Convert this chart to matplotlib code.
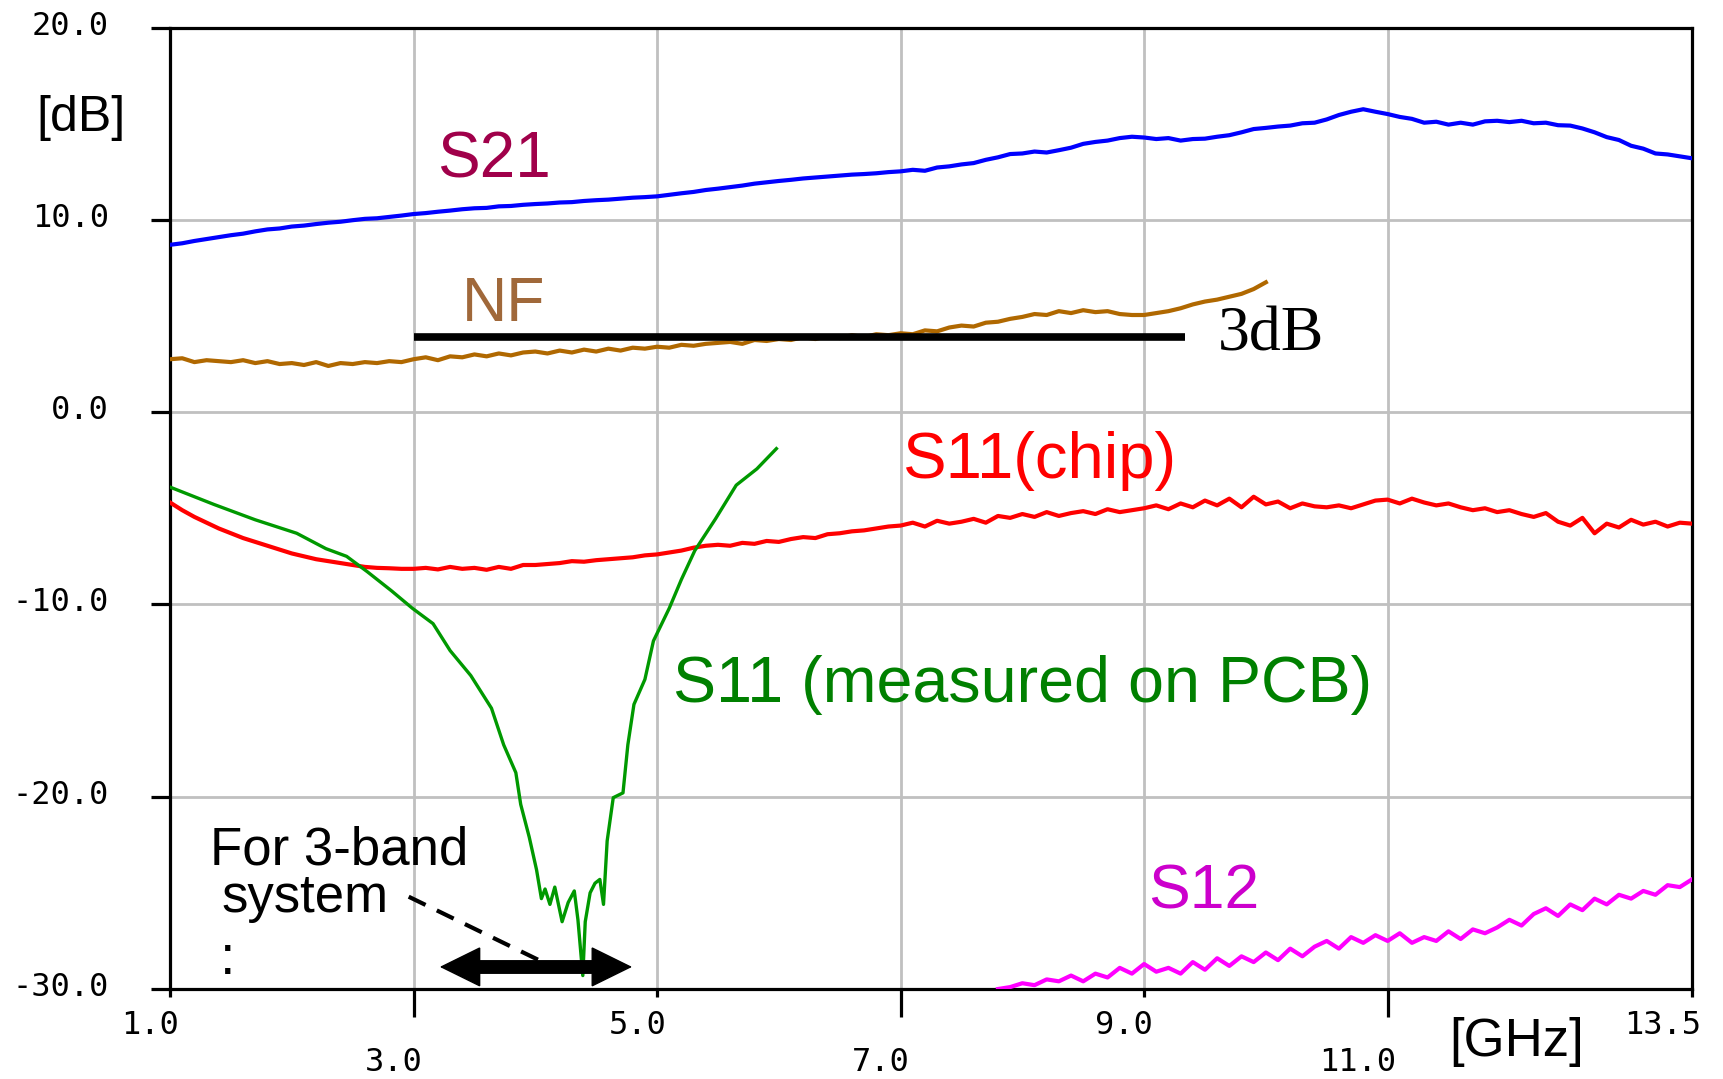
import numpy as np
import matplotlib
matplotlib.use("Agg")
import matplotlib.pyplot as plt
from matplotlib.transforms import ScaledTranslation

# ---------------- data ----------------
s21_start, s21_stop = 1.0, 13.5
s21_db = [
    8.70, 8.78, 8.90, 9.00, 9.10, 9.20, 9.28, 9.40, 9.50, 9.55,
    9.65, 9.70, 9.78, 9.85, 9.90, 9.98, 10.05, 10.08, 10.15, 10.22,
    10.30, 10.35, 10.42, 10.48, 10.55, 10.60, 10.62, 10.70, 10.72, 10.78,
    10.82, 10.85, 10.90, 10.92, 10.98, 11.02, 11.05, 11.10, 11.15, 11.18,
    11.22, 11.30, 11.38, 11.45, 11.55, 11.62, 11.70, 11.78, 11.88, 11.95,
    12.02, 12.08, 12.15, 12.20, 12.25, 12.30, 12.35, 12.38, 12.42, 12.48,
    12.52, 12.60, 12.55, 12.72, 12.78, 12.88, 12.95, 13.12, 13.25, 13.42,
    13.45, 13.55, 13.50, 13.62, 13.75, 13.95, 14.05, 14.12, 14.25, 14.32,
    14.28, 14.20, 14.25, 14.12, 14.20, 14.22, 14.32, 14.40, 14.55, 14.72,
    14.78, 14.85, 14.90, 15.02, 15.05, 15.22, 15.45, 15.62, 15.75, 15.62,
    15.50, 15.35, 15.25, 15.05, 15.10, 14.95, 15.05, 14.95, 15.12, 15.15,
    15.08, 15.15, 15.02, 15.05, 14.92, 14.90, 14.75, 14.55, 14.30, 14.15,
    13.85, 13.70, 13.45, 13.40, 13.30, 13.20,
]

nf_start, nf_stop = 1.0, 10.0
nf_db = [
    2.75, 2.80, 2.60, 2.70, 2.65, 2.60, 2.70, 2.55, 2.65, 2.50,
    2.55, 2.45, 2.60, 2.40, 2.55, 2.50, 2.60, 2.55, 2.65, 2.60,
    2.75, 2.85, 2.70, 2.90, 2.85, 3.00, 2.90, 3.05, 2.95, 3.10,
    3.15, 3.05, 3.20, 3.10, 3.25, 3.15, 3.30, 3.20, 3.35, 3.30,
    3.40, 3.35, 3.50, 3.45, 3.55, 3.60, 3.65, 3.55, 3.75, 3.70,
    3.80, 3.75, 3.90, 3.80, 3.95, 3.85, 4.00, 3.90, 4.05, 4.00,
    4.10, 4.05, 4.25, 4.20, 4.40, 4.50, 4.45, 4.65, 4.70, 4.85,
    4.95, 5.10, 5.05, 5.25, 5.15, 5.30, 5.20, 5.25, 5.10, 5.05,
    5.05, 5.15, 5.25, 5.40, 5.60, 5.75, 5.85, 6.00, 6.15, 6.40,
    6.75,
]

s11chip_start, s11chip_stop = 1.0, 13.5
s11chip_db = [
    -4.70, -5.10, -5.45, -5.75, -6.05, -6.30, -6.55, -6.75, -6.95, -7.15,
    -7.35, -7.50, -7.65, -7.75, -7.85, -7.95, -8.05, -8.10, -8.12, -8.15,
    -8.15, -8.10, -8.18, -8.05, -8.15, -8.10, -8.20, -8.05, -8.15, -7.95,
    -7.95, -7.90, -7.85, -7.75, -7.78, -7.70, -7.65, -7.60, -7.55, -7.45,
    -7.40, -7.30, -7.20, -7.05, -6.95, -6.90, -6.95, -6.80, -6.85, -6.70,
    -6.75, -6.60, -6.50, -6.55, -6.35, -6.30, -6.20, -6.15, -6.05, -5.95,
    -5.90, -5.75, -5.95, -5.65, -5.80, -5.70, -5.55, -5.75, -5.40, -5.50,
    -5.30, -5.45, -5.20, -5.40, -5.25, -5.15, -5.30, -5.05, -5.20, -5.10,
    -5.00, -4.85, -5.05, -4.75, -4.95, -4.60, -4.85, -4.50, -4.95, -4.40,
    -4.80, -4.65, -5.00, -4.75, -4.90, -4.95, -4.85, -5.00, -4.80, -4.60,
    -4.55, -4.75, -4.50, -4.70, -4.85, -4.75, -4.95, -5.10, -5.00, -5.20,
    -5.10, -5.30, -5.45, -5.25, -5.70, -5.90, -5.50, -6.30, -5.80, -6.00,
    -5.60, -5.85, -5.70, -5.95, -5.75, -5.80,
]

s11pcb_ghz = [1.0, 1.36, 1.70, 2.04, 2.28, 2.45, 2.62, 2.82, 2.99, 3.16,
              3.30, 3.47, 3.64, 3.74, 3.84, 3.88, 3.95, 4.01, 4.05, 4.08,
              4.12, 4.16, 4.22, 4.27, 4.32, 4.35, 4.39, 4.41, 4.45, 4.49,
              4.53, 4.56, 4.59, 4.64, 4.72, 4.76, 4.81, 4.90, 4.97, 5.10,
              5.20, 5.31, 5.48, 5.65, 5.82, 5.98]
s11pcb_db = [-3.9, -4.8, -5.6, -6.3, -7.1, -7.5, -8.3, -9.3, -10.2, -11.0,
             -12.4, -13.7, -15.4, -17.3, -18.75, -20.4, -22.1, -23.8, -25.3, -24.8,
             -25.6, -24.7, -26.5, -25.5, -24.9, -26.4, -29.3, -26.5, -25.0, -24.5,
             -24.3, -25.6, -22.3, -20.05, -19.8, -17.3, -15.2, -13.9, -11.9, -10.2,
             -8.7, -7.2, -5.55, -3.8, -2.95, -1.9]

s12_start, s12_stop = 7.8, 13.5
s12_db = [
    -30.0, -29.9, -29.7, -29.8, -29.5, -29.6, -29.3, -29.6, -29.2, -29.4,
    -28.9, -29.2, -28.7, -29.1, -28.9, -29.2, -28.6, -29.0, -28.4, -28.8,
    -28.3, -28.6, -28.1, -28.5, -27.9, -28.3, -27.8, -27.5, -27.9, -27.3,
    -27.6, -27.2, -27.5, -27.1, -27.6, -27.3, -27.5, -27.0, -27.4, -26.9,
    -27.1, -26.8, -26.4, -26.7, -26.1, -25.8, -26.2, -25.6, -25.9, -25.3,
    -25.6, -25.1, -25.3, -24.9, -25.1, -24.6, -24.7, -24.3,
]

nf_limit_ghz = [3.0, 9.34]
nf_limit_db = [3.9, 3.9]

band_ghz = [3.215, 4.795]
band_db = -28.85

x_major = [1.0, 5.0, 9.0, 13.5]
x_major_labels = ["1.0", "5.0", "9.0", "13.5"]
x_minor = [3.0, 7.0, 11.0]
x_minor_labels = ["3.0", "7.0", "11.0"]
y_ticks = [-30, -20, -10, 0, 10, 20]
y_labels = ["-30.0", "-20.0", "-10.0", "0.0", "10.0", "20.0"]

# ---------------- figure ----------------
plt.rcParams['font.family'] = ['Liberation Sans', 'DejaVu Sans']
fig = plt.figure(figsize=(17.23, 10.79), dpi=100)
ax = fig.add_axes([0.0987, 0.0834, 0.8833, 0.8911])
ax.set_xlim(1.0, 13.5)
ax.set_ylim(-30, 20)

ax.plot(np.linspace(s21_start, s21_stop, len(s21_db)), s21_db, color='#0000ff', lw=3.0, zorder=3)
ax.plot(np.linspace(nf_start, nf_stop, len(nf_db)), nf_db, color='#b06800', lw=3.0, zorder=3)
ax.plot(np.linspace(s11chip_start, s11chip_stop, len(s11chip_db)), s11chip_db, color='#ff0000', lw=3.0, zorder=3)
ax.plot(s11pcb_ghz, s11pcb_db, color='#009900', lw=2.4, zorder=3)
ax.plot(np.linspace(s12_start, s12_stop, len(s12_db)), s12_db, color='#ff00ff', lw=3.0, zorder=3)
ax.plot(nf_limit_ghz, nf_limit_db, color='black', lw=5.5, solid_capstyle='butt', zorder=4)

# grid and axes
ax.set_axisbelow(True)
ax.set_xticks(x_major)
ax.set_xticklabels(x_major_labels)
ax.set_xticks(x_minor, minor=True)
ax.set_xticklabels(x_minor_labels, minor=True)
ax.set_yticks(y_ticks)
ax.set_yticklabels(y_labels)
ax.grid(True, which='both', color='#c0c0c0', lw=2.0)
for s in ax.spines.values():
    s.set_linewidth(2.3)
    s.set_color('black')
mono = 'DejaVu Sans Mono'
ax.tick_params(axis='x', which='major', length=6, width=2.3, direction='out', pad=9, labelsize=23)
ax.tick_params(axis='x', which='minor', length=20, width=2.3, direction='out', pad=22, labelsize=23)
ax.tick_params(axis='y', length=14, width=2.3, direction='out', pad=30, labelsize=23)
shift_x = ScaledTranslation(0.09, 0, fig.dpi_scale_trans)
for lab in ax.get_xticklabels() + ax.get_xticklabels(minor=True):
    lab.set_fontfamily(mono)
    lab.set_horizontalalignment('right')
    lab.set_transform(lab.get_transform() + shift_x)
shift_y = ScaledTranslation(0, 0.05, fig.dpi_scale_trans)
for lab in ax.get_yticklabels():
    lab.set_fontfamily(mono)
    lab.set_transform(lab.get_transform() + shift_y)

# labels
fig.text(0.047, 0.8906, "[dB]", fontsize=36, ha='center', va='center')
fig.text(0.8804, 0.0343, "[GHz]", fontsize=38, ha='center', va='center')

ax.text(3.66, 13.1, "S21", color='#a0004a', fontsize=46, ha='center', va='center')
ax.text(3.74, 5.6, "NF", color='#a0683a', fontsize=45, ha='center', va='center')
ax.text(10.04, 4.0, "3dB", color='black', fontsize=46, ha='center', va='center',
        family=['Liberation Serif', 'DejaVu Serif'])
ax.text(7.02, -3.43, "S11(chip)", color='#ff0000', fontsize=47, ha='left', va='baseline')
ax.text(5.13, -15.07, "S11 (measured on PCB)", color='#008000', fontsize=46.5, ha='left', va='baseline')
ax.text(9.03, -25.79, "S12", color='#cc00cc', fontsize=45, ha='left', va='baseline')
ax.text(1.33, -23.5, "For 3-band", color='black', fontsize=38, ha='left', va='baseline')
ax.text(1.42, -26.0, "system", color='black', fontsize=38, ha='left', va='baseline')
ax.text(1.47, -28.5, ":", color='black', fontsize=40, ha='center', va='center')

# dashed pointer and band arrow (thin-outlined sharp heads + thick shaft)
ax.plot([2.96, 4.03], [-25.2, -28.5], color='black', lw=3.0, ls=(0, (4.5, 3)), zorder=5)
ax.annotate('', xy=(band_ghz[0], band_db), xytext=(band_ghz[1], band_db),
            arrowprops=dict(arrowstyle='<|-|>,head_length=1.38,head_width=0.68',
                            lw=1, color='black', shrinkA=0, shrinkB=0,
                            mutation_scale=20, joinstyle='miter'),
            zorder=6)
ax.plot([band_ghz[0] + 0.2, band_ghz[1] - 0.2], [band_db, band_db],
        color='black', lw=10, solid_capstyle='butt', zorder=6)

fig.savefig("out.png", dpi=100)
